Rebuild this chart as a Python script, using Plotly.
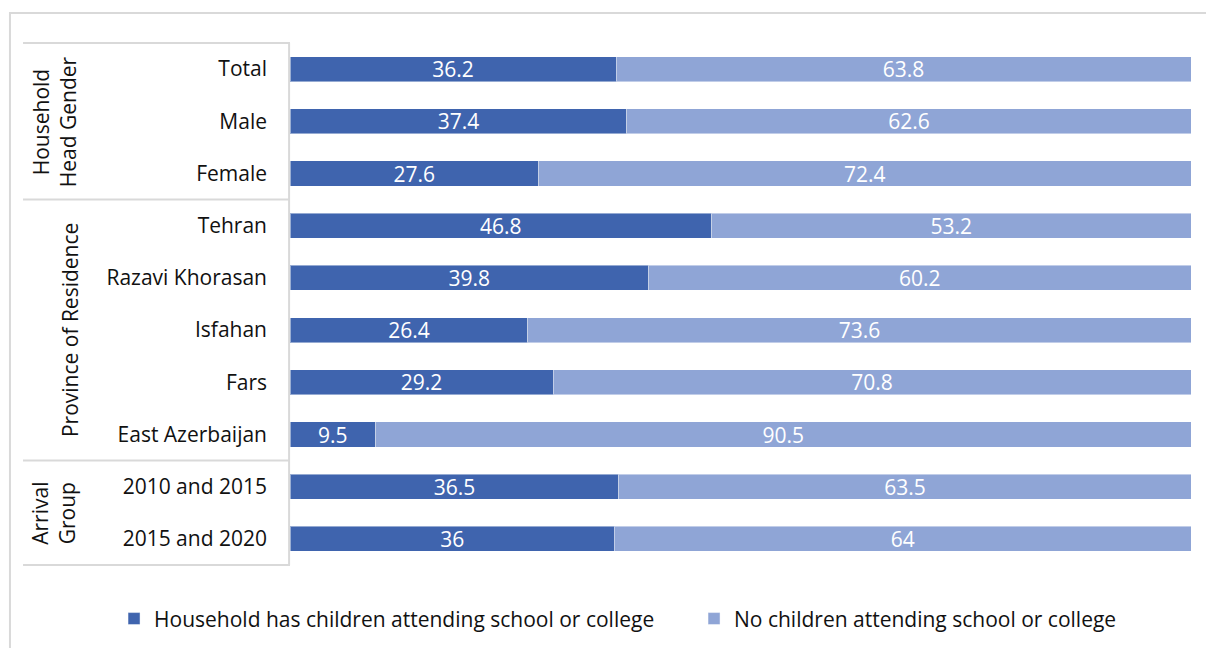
import plotly.graph_objects as go

categories = ["Total", "Male", "Female", "Tehran", "Razavi Khorasan", "Isfahan",
              "Fars", "East Azerbaijan", "2010 and 2015", "2015 and 2020"]
has_children = [36.2, 37.4, 27.6, 46.8, 39.8, 26.4, 29.2, 9.5, 36.5, 36]
no_children = [63.8, 62.6, 72.4, 53.2, 60.2, 73.6, 70.8, 90.5, 63.5, 64]
series_names = ["Household has children attending school or college",
                "No children attending school or college"]
groups = ["Household<br>Head Gender", "Province of Residence", "Arrival<br>Group"]
group_centers = [1, 5, 8.5]
group_x = [-0.2620, -0.2442, -0.2620]
group_bounds = [-0.5, 2.5, 7.5, 9.5]

DARK = "#3F64AE"
LIGHT = "#8FA5D6"
FONT = "Open Sans"
FS = 21

fig = go.Figure()
for name, vals, col in [(series_names[0], has_children, DARK), (series_names[1], no_children, LIGHT)]:
    fig.add_trace(go.Bar(
        y=categories, x=vals, name=name, orientation="h",
        marker=dict(color=col, line=dict(color="rgba(255,255,255,0.45)", width=1)),
        text=[f"{v:g}" for v in vals], textposition="inside", insidetextanchor="middle",
        textangle=0,
        textfont=dict(color="white", size=FS, family=FONT),
        hoverinfo="skip",
    ))

shapes = []
# outer chart border
shapes.append(dict(type="rect", xref="paper", yref="paper", x0=-0.3108, x1=1.05, y0=-0.3, y1=1.0553,
                   line=dict(color="#D9D9D9", width=2), fillcolor="rgba(0,0,0,0)", layer="below"))
# table lines
for b in group_bounds:
    shapes.append(dict(type="line", xref="paper", yref="y", x0=-0.2963, x1=0, y0=b, y1=b,
                       line=dict(color="#D9D9D9", width=2)))
shapes.append(dict(type="line", xref="paper", yref="y", x0=-0.001, x1=-0.001, y0=-0.5, y1=9.5,
                   line=dict(color="#D9D9D9", width=2)))

annotations = []
for g, c, gx in zip(groups, group_centers, group_x):
    annotations.append(dict(text=g, xref="paper", yref="y", x=gx, y=c, textangle=-90,
                            showarrow=False, font=dict(size=FS, family=FONT, color="#111111"),
                            xanchor="center", yanchor="middle"))

fig.update_layout(
    width=1206, height=648,
    margin=dict(l=290, r=15, t=42, b=82, autoexpand=False),
    barmode="stack", bargap=0.52,
    plot_bgcolor="white", paper_bgcolor="white",
    font=dict(family=FONT, size=FS, color="#111111"),
    xaxis=dict(range=[0, 100], visible=False, showgrid=False),
    yaxis=dict(autorange="reversed", showgrid=False, showline=False, ticks="",
               ticklabelstandoff=22, tickfont=dict(size=FS, family=FONT, color="#111111")),
    shapes=shapes, annotations=annotations,
    uniformtext=dict(minsize=FS, mode="show"),
    showlegend=True,
    legend=dict(orientation="h", x=-0.1953, xanchor="left", y=-0.101, yanchor="middle",
                font=dict(size=FS, family=FONT, color="#111111"), traceorder="normal",
                itemwidth=30, entrywidth=535),
)

fig.write_html("out.html")
